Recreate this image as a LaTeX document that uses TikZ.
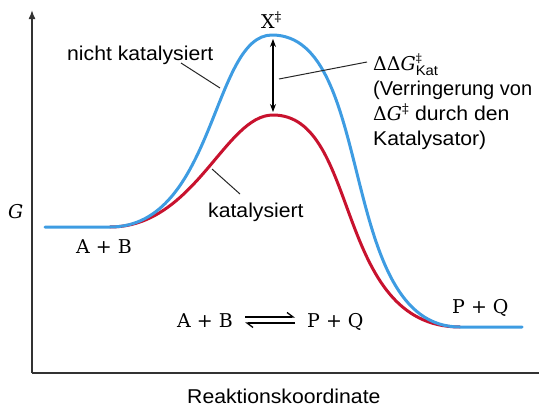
\documentclass[tikz,border=0pt]{standalone}
\usepackage{fontspec}
\setsansfont{Liberation Sans}[FakeStretch=1.06]
\newfontfamily\seriffont{DejaVu Serif}
\newfontfamily\narrowsans{Liberation Sans}
\usetikzlibrary{arrows.meta}
\definecolor{curveblue}{RGB}{62,156,226}
\definecolor{curvered}{RGB}{200,18,46}
\definecolor{axisgray}{RGB}{50,50,50}
\tikzset{
  sanslabel/.style={font=\sffamily\fontsize{20}{24}\selectfont, inner sep=0pt},
  seriflabel/.style={font=\seriffont\fontsize{19}{23}\selectfont, inner sep=0pt},
  energycurve/.style={line width=3pt, line join=round, line cap=round},
  leader/.style={line width=1pt, black!85},
  axisline/.style={line width=1.6pt, axisgray},
  gaparrow/.style={line width=1.2pt, {Stealth[length=8pt,width=6pt]}-{Stealth[length=8pt,width=6pt]}},
  harpoonline/.style={line width=1.3pt, -{Straight Barb[harpoon,length=6pt,width=9pt]}},
}
\begin{document}
\begin{tikzpicture}[x=1pt,y=-1pt]
\useasboundingbox (0,0) rectangle (539,407);
% axes
\coordinate (origin) at (32,373);
\coordinate (ytop) at (32,10);
\coordinate (xend) at (539,373);
\draw[axisline, -{Latex[length=9pt,width=7pt]}] (origin) -- (ytop);
\draw[axisline] (origin) -- (xend);
% curves
\draw[energycurve, curvered] (110,227) .. controls (195,227) and (225,115) .. (273,115)
  .. controls (361,115) and (333,327) .. (460,327);
\draw[energycurve, curveblue] (45,227) -- (110,227) .. controls (215,227) and (212,35) .. (272,35)
  .. controls (377,35) and (336,327) .. (460,327) -- (522,327);
% double arrow between the peaks
\coordinate (bluepeak) at (273,39);
\coordinate (redpeak) at (273,112);
\draw[gaparrow] (bluepeak) -- (redpeak);
% labels
\node[seriflabel, anchor=base west] (xts) at (261,28) {X\textsuperscript{‡}};
\node[seriflabel, anchor=base west] (glabel) at (8,218) {\textit{G}};
\node[seriflabel, anchor=base west] (ableft) at (76,253) {A + B};
\node[seriflabel, anchor=base west] (pqright) at (452,313) {P + Q};
\node[seriflabel, anchor=base west] (abeq) at (177,327) {A + B};
\node[seriflabel, anchor=base west] (pqeq) at (307,327) {P + Q};
\draw[harpoonline] ([xshift=12pt,yshift=10pt]abeq.base east) -- ([xshift=-12pt,yshift=10pt]pqeq.base west);
\draw[harpoonline] ([xshift=-12pt,yshift=4pt]pqeq.base west) -- ([xshift=12pt,yshift=4pt]abeq.base east);
\node[sanslabel, anchor=base west] (uncat) at (67,60) {nicht katalysiert};
\node[sanslabel, anchor=base west] (cat) at (208,217) {katalysiert};
\node[sanslabel, anchor=base west] (xaxis) at (187,403) {Reaktionskoordinate};
\node[seriflabel, anchor=base west] (ddg) at (373,70) {ΔΔ\textit{G}\rlap{\raisebox{8pt}{\fontsize{12}{12}\selectfont ‡}}\raisebox{-5pt}{\sffamily\fontsize{14}{14}\selectfont Kat}};
\node[sanslabel, anchor=base west] (ddgline1) at (373,95) {\narrowsans(Verringerung von};
\node[sanslabel, anchor=base west] (ddgline2) at (373,120) {{\seriffont\fontsize{19}{23}\selectfont Δ\textit{G}\textsuperscript{‡}} durch den};
\node[sanslabel, anchor=base west] (ddgline3) at (373,145) {Katalysator)};
% leader lines
\coordinate (uncatstart) at (181,63);
\coordinate (uncatend) at (220,88);
\draw[leader] (uncatstart) -- (uncatend);
\coordinate (catstart) at (212,169);
\coordinate (catend) at (240,194);
\draw[leader] (catstart) -- (catend);
\coordinate (gapmid) at (279,79);
\coordinate (ddgend) at (367,62);
\draw[leader] (gapmid) -- (ddgend);
\end{tikzpicture}
\end{document}
